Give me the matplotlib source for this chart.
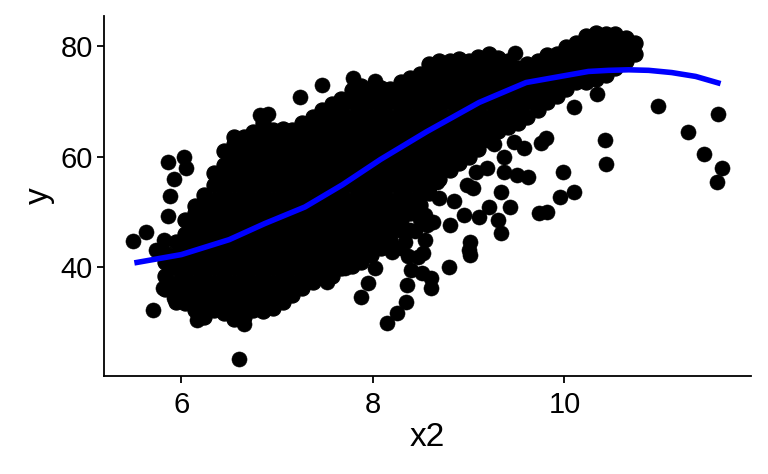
import matplotlib
matplotlib.use("Agg")
import matplotlib.pyplot as plt
import numpy as np

plt.rcParams['font.family'] = ['Liberation Sans', 'DejaVu Sans']

# dense part of the cloud: one entry of y values per x column (estimated)
cloud_x = [5.83, 5.94, 6.04, 6.14, 6.24, 6.34, 6.45, 6.55, 6.65, 6.75,
           6.85, 6.96, 7.06, 7.16, 7.26, 7.37, 7.47, 7.57, 7.67, 7.78,
           7.88, 7.98, 8.08, 8.18, 8.29, 8.39, 8.49, 8.59, 8.69, 8.80,
           8.90, 9.00, 9.10, 9.21, 9.31, 9.41, 9.51, 9.61, 9.72, 9.82,
           9.92, 10.02, 10.12, 10.23, 10.33, 10.43, 10.53, 10.64, 10.74]
cloud_y = [
    [36, 38.5, 41, 42.5],
    [33.7, 34.8, 37.2, 39.8, 42.2, 44.5],
    [33.5, 36, 38.5, 41, 43.5, 46, 48.5],
    [32.2, 34.8, 37.2, 39.8, 42.2, 44.8, 47.2, 49.8, 51],
    [31, 33.5, 36, 38.5, 41, 43.5, 46, 48.5, 51, 53],
    [32.2, 34.8, 37.2, 39.8, 42.2, 44.8, 47.2, 49.8, 52.2, 54.8, 57],
    [31.8, 33.5, 36, 38.5, 41, 43.5, 46, 48.5, 51, 53.5, 56, 58.5, 61],
    [30.7, 32.2, 34.8, 37.2, 39.8, 42.2, 44.8, 47.2, 49.8, 52.2, 54.8, 57.2, 59.8, 62.2, 63.5],
    [31, 33.5, 36, 38.5, 41, 43.5, 46, 48.5, 51, 53.5, 56, 58.5, 61, 63.5],
    [32.2, 34.8, 37.2, 39.8, 42.2, 44.8, 47.2, 49.8, 52.2, 54.8, 57.2, 59.8, 62.2, 64.5],
    [32.1, 33.5, 36, 38.5, 41, 43.5, 46, 48.5, 51, 53.5, 56, 58.5, 61, 63.5, 66],
    [32.7, 34.8, 37.2, 39.8, 42.2, 44.8, 47.2, 49.8, 52.2, 54.8, 57.2, 59.8, 62.2, 64.8],
    [33.8, 36, 38.5, 41, 43.5, 46, 48.5, 51, 53.5, 56, 58.5, 61, 63.5, 65],
    [35, 37.2, 39.8, 42.2, 44.8, 47.2, 49.8, 52.2, 54.8, 57.2, 59.8, 62.2, 64.8],
    [36.3, 38.5, 41, 43.5, 46, 48.5, 51, 53.5, 56, 58.5, 61, 63.5, 66],
    [37.3, 39.8, 42.2, 44.8, 47.2, 49.8, 52.2, 54.8, 57.2, 59.8, 62.2, 64.8, 67.2],
    [38.5, 41, 43.5, 46, 48.5, 51, 53.5, 56, 58.5, 61, 63.5, 66, 68.5],
    [38.4, 39.8, 42.2, 44.8, 47.2, 49.8, 52.2, 54.8, 57.2, 59.8, 62.2, 64.8, 67.2, 69.5],
    [39.8, 41, 43.5, 46, 48.5, 51, 53.5, 56, 58.5, 61, 63.5, 66, 68.5, 70.5],
    [40.2, 42.2, 44.8, 47.2, 49.8, 52.2, 54.8, 57.2, 59.8, 62.2, 64.8, 67.2, 69.8, 72],
    [41, 43.5, 46, 48.5, 51, 53.5, 56, 58.5, 61, 63.5, 66, 68.5, 71, 72.7],
    [42.2, 44.8, 47.2, 49.8, 52.2, 54.8, 57.2, 59.8, 62.2, 64.8, 67.2, 69.8, 72.2],
    [43.5, 46, 48.5, 51, 53.5, 56, 58.5, 61, 63.5, 66, 68.5, 71, 72.5],
    [45, 47.2, 49.8, 52.2, 54.8, 57.2, 59.8, 62.2, 64.8, 67.2, 69.8, 72.2],
    [46.8, 48.5, 51, 53.5, 56, 58.5, 61, 63.5, 66, 68.5, 71, 73.5],
    [49.8, 52.2, 54.8, 57.2, 59.8, 62.2, 64.8, 67.2, 69.8, 72.2, 74.2],
    [51.3, 53.5, 56, 58.5, 61, 63.5, 66, 68.5, 71, 73.5, 75],
    [53.5, 54.8, 57.2, 59.8, 62.2, 64.8, 67.2, 69.8, 72.2, 74.8, 76.8],
    [56, 58.5, 61, 63.5, 66, 68.5, 71, 73.5, 76, 77.3],
    [57.5, 59.8, 62.2, 64.8, 67.2, 69.8, 72.2, 74.8, 77.2],
    [58.8, 61, 63.5, 66, 68.5, 71, 73.5, 76, 77.7],
    [60, 62.2, 64.8, 67.2, 69.8, 72.2, 74.8, 77.2],
    [61.3, 63.5, 66, 68.5, 71, 73.5, 76, 78],
    [63.1, 64.8, 67.2, 69.8, 72.2, 74.8, 77.2, 78.6],
    [64.6, 66, 68.5, 71, 73.5, 76, 77.8],
    [65.3, 67.2, 69.8, 72.2, 74.8, 77.2],
    [66, 68.5, 71, 73.5, 76],
    [67.2, 69.8, 72.2, 74.8, 76.8],
    [68.5, 71, 73.5, 76, 77.3],
    [69.8, 72.2, 74.8, 77.2, 78.3],
    [71, 73.5, 76, 78.5],
    [72.3, 74.8, 77.2, 79.8],
    [73.5, 76, 78.5, 80.6],
    [73.5, 74.8, 77.2, 79.8, 81.8],
    [74, 76, 78.5, 81, 82.4],
    [74.8, 77.2, 79.8, 82.2],
    [76, 78.5, 81, 82.2],
    [77.2, 79.8, 81.5],
    [78.5, 80.5],
]

# loose points around the cloud
loose_x = [5.50, 5.63, 5.82, 5.74, 5.86, 5.88, 5.92, 5.86, 6.03, 6.05,
           5.70, 6.60, 5.81, 5.92, 6.16, 6.65,
           6.91, 6.82, 7.24, 7.47, 7.79, 8.02, 9.48,
           7.52, 7.88, 7.95, 8.15, 8.25, 8.35, 8.36, 8.40, 8.47, 8.51,
           8.61, 8.61, 8.79, 9.01, 8.02, 7.71,
           8.20, 8.29, 8.34, 8.39, 8.44, 8.49, 8.54, 8.54, 8.37, 8.52,
           8.67, 8.69, 8.63, 8.56, 8.85, 8.95, 8.80, 9.01, 9.00, 9.11,
           9.21, 9.34, 9.43, 9.31, 9.34, 9.17, 9.47, 9.58, 9.76, 9.81,
           9.37, 9.37, 9.50, 9.62, 9.99, 9.95, 10.10, 9.73, 9.82, 8.98,
           9.05, 9.19, 9.08, 9.26,
           10.42, 10.43, 11.29, 11.46, 11.64, 11.59, 10.34, 10.98, 11.60, 10.10]
loose_y = [44.8, 46.4, 45.0, 43.2, 49.3, 52.9, 56.0, 59.1, 60.0, 58.0,
           32.3, 23.4, 36.3, 34.5, 30.5, 29.8,
           67.8, 67.6, 70.7, 73.0, 74.3, 73.6, 78.8,
           37.4, 34.7, 37.2, 30.0, 31.8, 33.8, 36.8, 39.5, 41.9, 39.0,
           36.3, 38.1, 40.1, 42.3, 39.9, 39.9,
           42.8, 43.5, 44.5, 46.7, 46.5, 48.8, 45.0, 49.5, 42.0, 42.5,
           55.5, 52.6, 48.2, 47.7, 51.9, 49.5, 47.7, 44.6, 43.2, 49.1,
           50.9, 53.7, 50.9, 48.6, 46.2, 63.4, 62.7, 61.6, 62.5, 63.4,
           60.0, 57.3, 56.7, 56.4, 57.3, 52.8, 53.7, 49.9, 50.0, 54.9,
           54.4, 58.0, 57.3, 62.2,
           63.1, 58.6, 64.5, 60.4, 58.0, 55.5, 71.4, 69.2, 67.8, 68.9]

# smoothed trend line
smooth_x = [5.51, 6.00, 6.50, 6.87, 7.29, 7.68, 8.08, 8.56, 9.11, 9.60,
            10.25, 10.46, 10.67, 10.88, 11.12, 11.37, 11.63]
smooth_y = [40.8, 42.3, 45.0, 47.9, 50.9, 54.9, 59.5, 64.5, 69.8, 73.4,
            75.4, 75.6, 75.7, 75.6, 75.2, 74.5, 73.2]

cx_all = []
cy_all = []
for cx, col in zip(cloud_x, cloud_y):
    cx_all += [cx] * len(col)
    cy_all += col

fig = plt.figure(figsize=(7.68, 4.74), dpi=100)
ax = fig.add_axes([0.1354, 0.2078, 0.8424, 0.7576])
ax.scatter(cx_all, cy_all, s=118, facecolor='black', edgecolor='black',
           linewidths=0.9, zorder=2)
ax.scatter(loose_x, loose_y, s=118, facecolor='black', edgecolor='black',
           linewidths=0.4, zorder=2)
ax.plot(smooth_x, smooth_y, color='#0000ff', lw=4, zorder=3,
        solid_capstyle='butt', solid_joinstyle='round')

ax.margins(0.05)
ax.set_xticks([6, 8, 10])
ax.set_yticks([40, 60, 80])
for s in ['top', 'right']:
    ax.spines[s].set_visible(False)
for s in ['left', 'bottom']:
    ax.spines[s].set_linewidth(1.3)
ax.tick_params(length=5, width=1.3, labelsize=21, colors='black')
ax.tick_params(axis='x', pad=6)
ax.tick_params(axis='y', pad=3)
ax.set_xlabel('x2', fontsize=24, labelpad=2)
ax.set_ylabel('y', fontsize=24, labelpad=4)

fig.savefig('out.png', dpi=100)
